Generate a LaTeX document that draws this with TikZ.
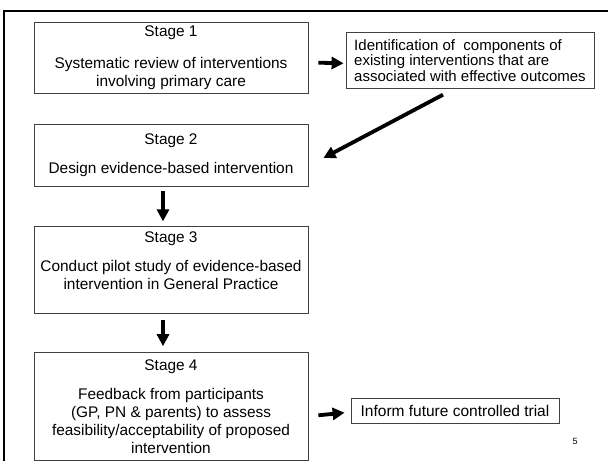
\documentclass[tikz,border=0pt]{standalone}
\usepackage{fontspec}
\setmainfont{Liberation Sans}
\usetikzlibrary{arrows.meta,
                positioning}
\tikzstyle{stagebox} = [draw=black!75, line width=0.8pt, minimum width=274pt, inner sep=0pt, align=center, font=\fontsize{15.4}{18}\selectfont]
\tikzstyle{sidebox} = [draw=black!75, line width=0.8pt, inner sep=0pt, font=\fontsize{15}{15.5}\selectfont]
\tikzstyle{fatarrow} = [line width=3.8pt, -{Triangle[length=12pt,width=12pt]}]

\begin{document}
\begin{tikzpicture}[x=1pt,y=-1pt]
    \useasboundingbox (0,0) rectangle (608,461);
    % slide frame
    \draw[line width=2.2pt] (4,461) -- (4,11) -- (608,11);

    \node[stagebox, minimum height=71pt] (stage1) at (171,57.7) {Stage 1\\[14pt]Systematic review of interventions\\involving primary care};
    \node[stagebox, minimum height=62pt] (stage2) [below = 30pt of stage1] {Stage 2\\[11pt]Design evidence-based intervention};
    \node[stagebox, minimum height=87pt] (stage3) [below = 40pt of stage2] {Stage 3\\[11pt]Conduct pilot study of evidence-based\\intervention in General Practice\\[2pt]};
    \node[stagebox, minimum height=108pt] (stage4) [below = 38pt of stage3] {Stage 4\\[11pt]Feedback from participants\\(GP, PN \& parents) to assess\\feasibility/acceptability of proposed\\intervention};

    \node[sidebox, minimum width=248pt, minimum height=56pt, align=left] (ident) at (470,60.3) {Identification of~ components of\\existing interventions that are\\associated with effective outcomes};
    \node[sidebox, minimum width=208pt, minimum height=25pt, font=\fontsize{15.5}{17}\selectfont] (inform) at (455,410.7) {Inform future controlled trial};
    \node[font=\fontsize{9}{10}\selectfont] (pagenum) at (575,441) {5};

    \draw [fatarrow] ([xshift=10pt,yshift=-5pt]stage1.east) -- ([xshift=-2pt,yshift=-3pt]ident.west);
    \draw [fatarrow] ([xshift=-27pt,yshift=-6pt]ident.south) -- ([xshift=15pt,yshift=-3pt]stage2.east);
    \draw [fatarrow] ([xshift=-8pt,yshift=-5pt]stage2.south) -- ([xshift=-8pt,yshift=5pt]stage3.north);
    \draw [fatarrow] ([xshift=-8pt,yshift=-6pt]stage3.south) -- ([xshift=-8pt,yshift=6pt]stage4.north);
    \draw [fatarrow] ([xshift=10pt,yshift=-8.7pt]stage4.east) -- ([xshift=-6pt,yshift=-2pt]inform.west);
\end{tikzpicture}
\end{document}
